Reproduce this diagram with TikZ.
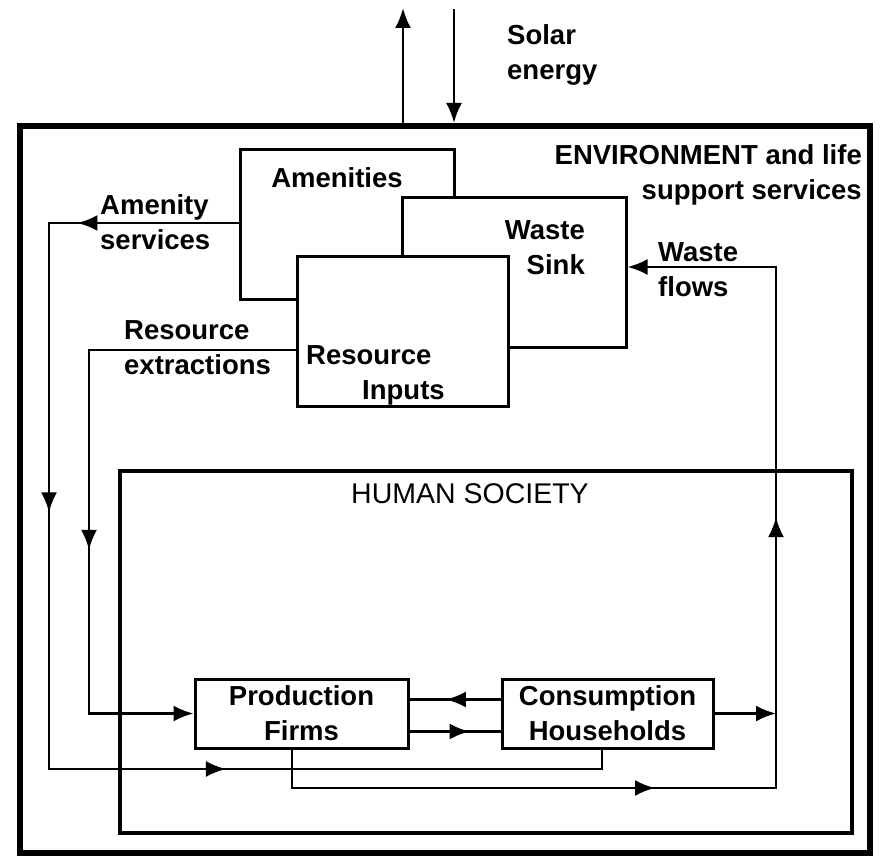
\documentclass[tikz,border=0pt]{standalone}
\usepackage{fontspec}
\setmainfont{Liberation Sans}
\usepackage{tikz}
\usetikzlibrary{arrows.meta,decorations.markings,calc}

\begin{document}
\begin{tikzpicture}[x=1pt,y=-1pt,
  >={Latex[length=20pt,width=16pt]},
  lbl/.style={font=\fontsize{27.5}{35}\selectfont\bfseries, inner sep=0pt},
  envframe/.style={draw, line width=6pt, minimum width=850pt, minimum height=727pt},
  socframe/.style={draw, line width=4pt, minimum width=732pt, minimum height=362pt},
  sector/.style={draw, fill=white, line width=3pt},
  flow/.style={line width=2.6pt, line cap=rect},
  midarrow/.style={postaction={decorate}, decoration={markings, mark=at position #1 with {\arrow{>}}}}]
\useasboundingbox (0,0) rectangle (881,866);
\node[envframe] (env) at (445,489.5) {};
\node[socframe] (soc) at (486,652) {};
\node[sector, minimum width=214pt, minimum height=150pt] (amen) at (347,225) {};
\node[sector, minimum width=224pt, minimum height=150pt] (wsink) at (514,273) {};
\node[sector, minimum width=211pt, minimum height=150pt] (res) at (402.5,332) {};
\node[sector, lbl, align=center, minimum width=213pt, minimum height=69pt] (prod) at (301.5,713.5) {Production\\Firms};
\node[sector, lbl, align=center, minimum width=211pt, minimum height=69pt] (cons) at (607.5,713.5) {Consumption\\Households};
\node[lbl, anchor=west, align=left] (solar) at (507,55) {Solar\\energy};
\node[lbl, anchor=east, align=right] (envlbl) at (862,175) {ENVIRONMENT and life\\support services};
\node[lbl] (amenlbl) at (337,178) {Amenities};
\node[lbl, anchor=east, align=right] (wsinklbl) at (585,248) {Waste\\Sink};
\node[lbl, anchor=west, align=left] (reslbl) at (306,375) {Resource\\\hspace*{56pt}Inputs};
\node[lbl, anchor=west, align=left] (amensvc) at (100,222) {Amenity\\services};
\node[lbl, anchor=west, align=left] (resext) at (124,348) {Resource\\extractions};
\node[lbl, anchor=west, align=left] (wflows) at (658,270) {Waste\\flows};
\node[lbl, font=\fontsize{28.5}{35}\selectfont] (soclbl) at (470,494) {HUMAN SOCIETY};
\coordinate (solarin) at (454,10);
\coordinate (heatout) at (403,8);
\coordinate (as1) at (49,223);
\coordinate (as2) at (49,769);
\coordinate (as3) at (602,769);
\coordinate (rx1) at (89,350);
\coordinate (rx2) at (89,713.5);
\coordinate (pw1) at (292,788);
\coordinate (wf1) at (776,788);
\coordinate (wf2) at (776,267);
\draw[flow,->] (solarin) -- (solarin |- env.north);
\draw[flow,->] (heatout |- env.north) -- (heatout);
\draw[flow, midarrow=0.85] (as1 -| amen.west) -- (as1);
\draw[flow, midarrow=0.53] (as1) -- (as2);
\draw[flow, midarrow=0.32] (as2) -- (as3);
\draw[flow] (as3) -- (as3 |- cons.south);
\draw[flow] (rx1 -| res.west) -- (rx1);
\draw[flow, midarrow=0.55] (rx1) -- (rx2);
\draw[flow,->] (rx2) -- (prod.west);
\draw[flow, midarrow=0.6] ($(cons.west)+(0,-14)$) -- ($(prod.east)+(0,-14)$);
\draw[flow, midarrow=0.66] ($(prod.east)+(0,18)$) -- ($(cons.west)+(0,18)$);
\draw[flow,->] (cons.east) -- (cons.east -| wf1);
\draw[flow] (prod.south -| pw1) -- (pw1);
\draw[flow, midarrow=0.75] (pw1) -- (wf1);
\draw[flow, midarrow=0.52] (wf1) -- (wf2);
\draw[flow,->] (wf2) -- (wf2 -| wsink.east);
\end{tikzpicture}
\end{document}
